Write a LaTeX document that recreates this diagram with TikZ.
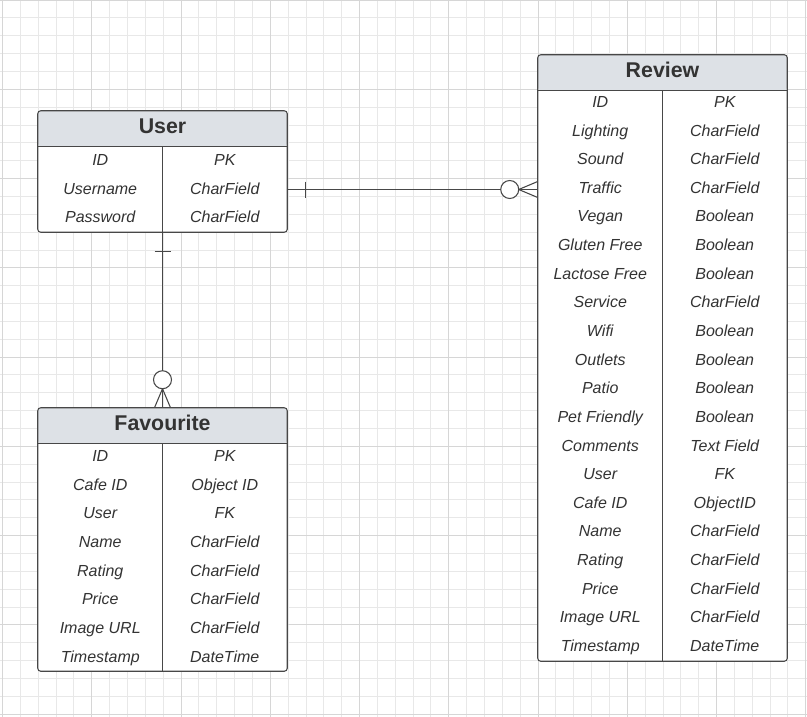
\documentclass[tikz,border=0pt]{standalone}
\usepackage{fontspec}
\setmainfont{Liberation Sans}
\usetikzlibrary{positioning}
\definecolor{gridline}{HTML}{E8E8E8}
\definecolor{gridmajor}{HTML}{D6D6D6}
\definecolor{headfill}{HTML}{DDE1E6}
\definecolor{linegray}{HTML}{474747}
\definecolor{textgray}{HTML}{333333}

\begin{document}
\begin{tikzpicture}[
  x=0.75pt, y=-0.75pt,
  gridminor/.style={gridline,line width=0.6pt},
  gridmaj/.style={gridmajor,line width=0.6pt},
  entity/.style={fill=white,minimum width=186.75pt,inner sep=0pt},
  header/.style={fill=headfill,rounded corners=2.25pt,minimum width=186.75pt,
    minimum height=26.6pt,inner sep=0pt,text=textgray,
    text height=11.5pt,text depth=4pt,
    font=\fontsize{16}{19}\selectfont\bfseries},
  frame/.style={draw=linegray,line width=0.8pt,rounded corners=2.25pt},
  rule/.style={linegray,line width=0.8pt},
  field/.style={inner sep=0pt,text=textgray,text height=9pt,text depth=2pt,
    font=\fontsize{12}{14}\selectfont\itshape},
  rel/.style={linegray,line width=0.8pt}]

  \useasboundingbox (0,0) rectangle (807,717);
  \fill[white] (0,0) rectangle (807,717);

  % Background grid
  \foreach \i in {0,...,45}
    \draw[gridminor] ({2.45+17.85*\i},0) -- ({2.45+17.85*\i},717);
  \foreach \j in {0,...,40}
    \draw[gridminor] (0,{17.85*\j}) -- (807,{17.85*\j});
  \foreach \i in {0,...,9}
    \draw[gridmaj] ({2.45+89.25*\i},0) -- ({2.45+89.25*\i},717);
  \foreach \j in {0,...,8}
    \draw[gridmaj] (0,{89.25*\j}) -- (807,{89.25*\j});

  % Entities
  \node[entity, minimum height=90.75pt] (user) at (162.5,171.5) {};
  \node[header, below=0pt of user.north] (userhead) {User};
  \draw[rule] (userhead.south west) -- (userhead.south east);
  \draw[rule] (userhead.south) -- (user.south);
  \draw[frame] (user.north west) rectangle (user.south east);
  \foreach \name/\kind [count=\i] in {ID/PK, Username/CharField, Password/CharField} {
    \node[field] (user-n\i) at (100.25,{161.3+28.2*(\i-1)}) {\name};
    \node[field] (user-k\i) at (224.75,{161.3+28.2*(\i-1)}) {\kind};
  }

  \node[entity, minimum height=197.25pt] (fav) at (162.5,539.5) {};
  \node[header, below=0pt of fav.north] (favhead) {Favourite};
  \draw[rule] (favhead.south west) -- (favhead.south east);
  \draw[rule] (favhead.south) -- (fav.south);
  \draw[frame] (fav.north west) rectangle (fav.south east);
  \foreach \name/\kind [count=\i] in {ID/PK, Cafe ID/Object ID, User/FK,
      Name/CharField, Rating/CharField, Price/CharField,
      Image URL/CharField, Timestamp/DateTime} {
    \node[field] (fav-n\i) at (100.25,{456.8+28.65*(\i-1)}) {\name};
    \node[field] (fav-k\i) at (224.75,{456.8+28.65*(\i-1)}) {\kind};
  }

  \node[entity, minimum height=454.5pt] (review) at (662.5,358) {};
  \node[header, below=0pt of review.north] (reviewhead) {Review};
  \draw[rule] (reviewhead.south west) -- (reviewhead.south east);
  \draw[rule] (reviewhead.south) -- (review.south);
  \draw[frame] (review.north west) rectangle (review.south east);
  \foreach \name/\kind [count=\i] in {ID/PK, Lighting/CharField, Sound/CharField,
      Traffic/CharField, Vegan/Boolean, Gluten Free/Boolean,
      Lactose Free/Boolean, Service/CharField, Wifi/Boolean,
      Outlets/Boolean, Patio/Boolean, Pet Friendly/Boolean,
      Comments/Text Field, User/FK, Cafe ID/ObjectID, Name/CharField,
      Rating/CharField, Price/CharField, Image URL/CharField,
      Timestamp/DateTime} {
    \node[field] (review-n\i) at (600.25,{102.8+28.63*(\i-1)}) {\name};
    \node[field] (review-k\i) at (724.75,{102.8+28.63*(\i-1)}) {\kind};
  }

  % User -- Review (one to zero or many)
  \coordinate (ua) at (user-k2 -| user.east);
  \coordinate (rb) at (user-k2 -| review.west);
  \draw[rel] (ua) -- (rb);
  \draw[rel] ([xshift=13.5pt]ua) ++(0,-8) -- ++(0,16);
  \draw[rel] ([xshift=-14.25pt]rb) -- ++(19,-8)
             ([xshift=-14.25pt]rb) -- ++(19,8);
  \draw[rel,fill=white] ([xshift=-21pt]rb) circle[radius=6.75pt];

  % User -- Favourite (one to zero or many)
  \draw[rel] (user.south) -- (fav.north);
  \draw[rel] ([yshift=-14.25pt]user.south) ++(-8,0) -- ++(16,0);
  \draw[rel] ([yshift=14.25pt]fav.north) -- ++(-8,19)
             ([yshift=14.25pt]fav.north) -- ++(8,19);
  \draw[rel,fill=white] ([yshift=21pt]fav.north) circle[radius=6.75pt];
\end{tikzpicture}
\end{document}
